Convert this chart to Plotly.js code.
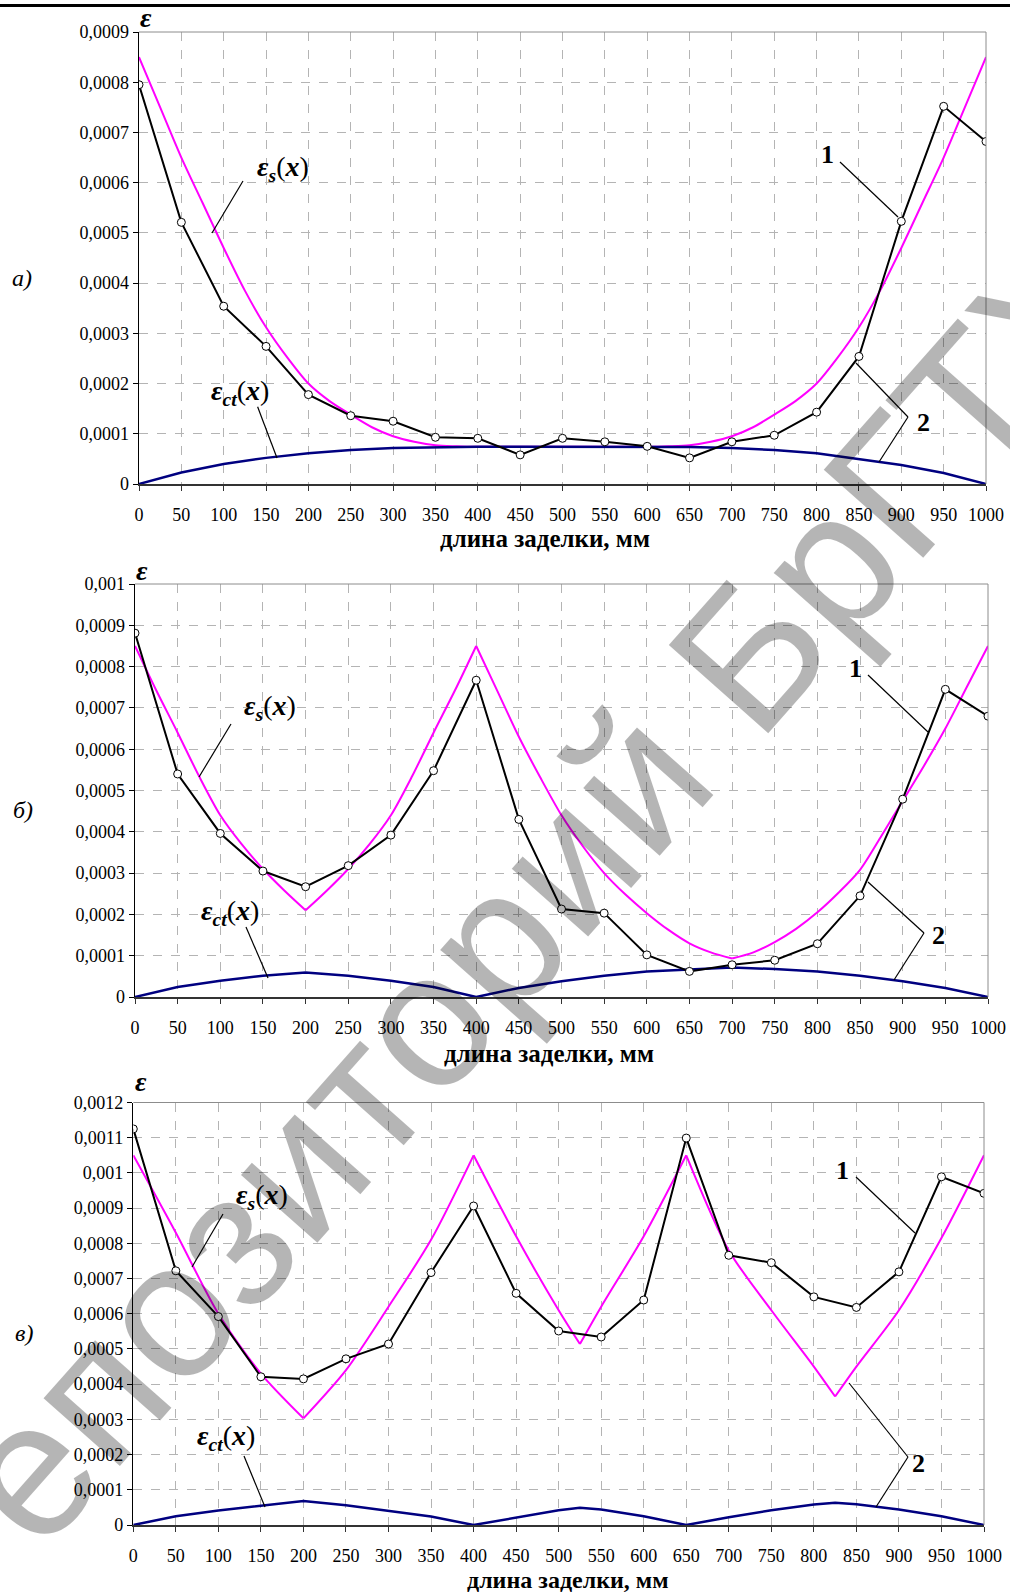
<!DOCTYPE html>
<html>
<head>
<meta charset="utf-8">
<script src="https://cdn.plot.ly/plotly-3.0.1.min.js"></script>
<style>
html,body{margin:0;padding:0;background:#fff;}
#chart{width:1010px;height:1596px;}
</style>
</head>
<body>
<div id="chart"></div>
<script>
// ---------- DATA ----------
const xTickVals = [0,50,100,150,200,250,300,350,400,450,500,550,600,650,700,750,800,850,900,950,1000];
const xTickText = ['0','50','100','150','200','250','300','350','400','450','500','550','600','650','700','750','800','850','900','950','1000'];

const yTickValsA = [0,0.0001,0.0002,0.0003,0.0004,0.0005,0.0006,0.0007,0.0008,0.0009];
const yTickTextA = ['0','0,0001','0,0002','0,0003','0,0004','0,0005','0,0006','0,0007','0,0008','0,0009'];
const yTickValsB = [0,0.0001,0.0002,0.0003,0.0004,0.0005,0.0006,0.0007,0.0008,0.0009,0.001];
const yTickTextB = ['0','0,0001','0,0002','0,0003','0,0004','0,0005','0,0006','0,0007','0,0008','0,0009','0,001'];
const yTickValsC = [0,0.0001,0.0002,0.0003,0.0004,0.0005,0.0006,0.0007,0.0008,0.0009,0.001,0.0011,0.0012];
const yTickTextC = ['0','0,0001','0,0002','0,0003','0,0004','0,0005','0,0006','0,0007','0,0008','0,0009','0,001','0,0011','0,0012'];

// measured points (curve 1), every 50 mm
const xMeas = [0,50,100,150,200,250,300,350,400,450,500,550,600,650,700,750,800,850,900,950,1000];
const measA = [0.000795,0.000521,0.000354,0.000274,0.000178,0.000136,0.000125,0.000093,0.000091,0.000058,0.000091,0.000084,0.000075,0.000052,0.000084,0.000097,0.000143,0.000254,0.000523,0.000752,0.000682];
const measB = [0.000881,0.00054,0.000396,0.000305,0.000267,0.000318,0.000392,0.000548,0.000767,0.00043,0.000213,0.000203,0.000102,0.000062,0.000078,0.000089,0.000129,0.000245,0.000479,0.000745,0.00068];
const measC = [0.001125,0.000722,0.000592,0.000421,0.000415,0.000472,0.000514,0.000717,0.000906,0.000658,0.000551,0.000534,0.000639,0.001099,0.000766,0.000745,0.000648,0.000618,0.000719,0.000989,0.000942];

// eps_s(x) theoretical (magenta)
const xSA = [0,25,50,75,100,125,150,175,200,225,250,275,300,325,350,375,400,425,450,475,500,525,550,575,600,625,650,675,700,725,750,775,800,825,850,875,900,925,950,975,1000];
const epsSA = [0.00085,0.00075,0.00065,0.00056,0.00047,0.000385,0.000312,0.000252,0.0002,0.000165,0.000138,0.000113,0.000095,0.000084,0.000077,0.000075,0.000074,0.000074,0.000074,0.000074,0.000074,0.000074,0.000074,0.000074,0.000074,0.000075,0.000077,0.000084,0.000095,0.000113,0.000138,0.000165,0.0002,0.000252,0.000312,0.000385,0.00047,0.00056,0.00065,0.00075,0.00085];
const xSB = [0,25,50,75,100,125,150,175,200,225,250,275,300,325,350,375,400,425,450,475,500,525,550,575,600,625,650,675,700,725,750,775,800,825,850,875,900,925,950,975,1000];
const epsSB = [0.00085,0.000742,0.00064,0.000535,0.00044,0.00037,0.00031,0.000258,0.00021,0.000258,0.00031,0.00037,0.00044,0.000535,0.00064,0.000742,0.00085,0.00074,0.00063,0.000532,0.00044,0.000365,0.0003,0.000248,0.000203,0.000163,0.00013,0.000108,0.000093,0.000108,0.000133,0.000165,0.000205,0.000253,0.000308,0.00039,0.000475,0.00056,0.00065,0.00075,0.00085];
const cornersB = [200,400,700];
const xSC = [0,50,100,150,200,250,300,350,400,450,500,525,550,600,650,700,750,800,825,850,900,950,1000];
const epsSC = [0.00105,0.00083,0.0006,0.00043,0.000303,0.00044,0.00062,0.00081,0.00105,0.00082,0.00061,0.000514,0.00062,0.00082,0.00105,0.00078,0.00061,0.00045,0.000365,0.00045,0.00061,0.000815,0.00105];
const cornersC = [200,400,525,650,825];

// eps_ct(x) theoretical (navy)
const xCtA = [0,50,100,150,200,250,300,350,400,450,500,550,600,650,700,750,800,850,900,950,1000];
const epsCtA = [0,0.000023,0.00004,0.000052,0.000061,0.0000675,0.0000715,0.0000735,0.000074,0.000074,0.000074,0.000074,0.000074,0.0000735,0.0000715,0.0000675,0.000061,0.00005,0.000038,0.000022,0];
const xCtB = [0,50,100,150,200,250,300,350,400,450,500,550,600,650,700,750,800,850,900,950,1000];
const epsCtB = [0,0.000024,0.0000395,0.0000515,0.0000595,0.0000515,0.0000395,0.000024,0,0.000022,0.000038,0.0000515,0.000062,0.0000677,0.0000716,0.0000677,0.000062,0.0000515,0.000038,0.000022,0];
const xCtC = [0,50,100,150,200,250,300,350,400,450,500,525,550,600,650,700,750,800,825,850,900,950,1000];
const epsCtC = [0,0.000025,0.000041,0.000055,0.000068,0.000056,0.000041,0.000024,0,0.000021,0.000042,0.000049,0.000044,0.000025,0,0.000022,0.000042,0.000058,0.000063,0.000059,0.000044,0.000025,0];

// ---------- LAYOUT HELPERS ----------
const W = 1010, H = 1596;
const px = x => x / W;
const py = y => 1 - y / H;
const SERIF = '"Liberation Serif", "Times New Roman", serif';

function xAxis(l, r, anchor) {
  return {
    domain: [px(l), px(r)], anchor: anchor, range: [0, 1000],
    tickmode: 'array', tickvals: xTickVals, ticktext: xTickText,
    ticks: 'outside', ticklen: 5, tickcolor: '#333', tickwidth: 1,
    showline: true, linecolor: '#333', linewidth: 1.5,
    showgrid: true, gridcolor: '#b4b4b4', griddash: 'dash', gridwidth: 1,
    zeroline: false, automargin: false, fixedrange: true,
    ticklabelstandoff: 9,
    tickfont: {family: SERIF, size: 18, color: '#000'}
  };
}
function yAxis(top, bottom, max, vals, text, anchor) {
  return {
    domain: [py(bottom), py(top)], anchor: anchor, range: [0, max],
    tickmode: 'array', tickvals: vals, ticktext: text,
    ticks: 'outside', ticklen: 5, tickcolor: '#000', tickwidth: 1,
    showline: true, linecolor: '#000', linewidth: 1.5,
    showgrid: true, gridcolor: '#b4b4b4', griddash: 'dash', gridwidth: 1,
    zeroline: false, automargin: false, fixedrange: true,
    tickfont: {family: SERIF, size: 18, color: '#000'}
  };
}

// plot rectangles in pixels [left, right, top, bottom]
const RA = [139, 986, 32, 484];
const RB = [135, 988, 584, 997];
const RC = [133.3, 984, 1102.5, 1525];

// split a curve into smooth pieces at its sharp corners
function pieces(xs, ys, corners) {
  const out = []; let cx = [], cy = [];
  for (let i = 0; i < xs.length; i++) {
    cx.push(xs[i]); cy.push(ys[i]);
    if (corners.indexOf(xs[i]) >= 0) { out.push([cx, cy]); cx = [xs[i]]; cy = [ys[i]]; }
  }
  out.push([cx, cy]);
  return out;
}

function traces(xa, ya, xs, s, corners, xc, c, m) {
  const t = [];
  pieces(xs, s, corners).forEach(p => t.push({x: p[0], y: p[1], xaxis: xa, yaxis: ya, mode: 'lines',
    line: {color: '#ff00ff', width: 2, shape: 'spline', smoothing: 0.8}, hoverinfo: 'skip'}));
  t.push({x: xc, y: c, xaxis: xa, yaxis: ya, mode: 'lines', line: {color: '#000080', width: 2.5}, hoverinfo: 'skip'});
  t.push({x: xMeas, y: m, xaxis: xa, yaxis: ya, mode: 'lines+markers',
     line: {color: '#000', width: 2},
     marker: {symbol: 'circle', size: 8, color: '#fff', line: {color: '#000', width: 1}}, hoverinfo: 'skip'});
  return t;
}

const data = [].concat(
  traces('x', 'y', xSA, epsSA, [], xCtA, epsCtA, measA),
  traces('x2', 'y2', xSB, epsSB, cornersB, xCtB, epsCtB, measB),
  traces('x3', 'y3', xSC, epsSC, cornersC, xCtC, epsCtC, measC)
);

function line(x0, y0, x1, y1, w, col) {
  return {type: 'line', xref: 'paper', yref: 'paper', x0: px(x0), y0: py(y0), x1: px(x1), y1: py(y1),
          line: {color: col || '#000', width: w || 1.2}};
}
function border(R) {
  return [line(R[0], R[2], R[1], R[2], 1, '#8c8c8c'), line(R[1], R[2], R[1], R[3], 1, '#8c8c8c')];
}

const shapes = [].concat(
  [line(0, 5.5, 1010, 5.5, 3, '#000')],
  border(RA), border(RB), border(RC),
  [
    line(243, 181, 212, 233), line(840, 162, 898, 217), line(257.6, 406.7, 277, 458),
    line(908, 417, 856, 363), line(908, 417, 879, 462),
    line(231, 724, 199, 777), line(868, 675, 928, 732), line(246, 927, 268, 978),
    line(924, 933, 868, 882), line(924, 933, 894, 980),
    line(223, 1214, 192, 1267), line(856, 1177, 915, 1233), line(244, 1456, 265, 1507),
    line(908, 1457, 849, 1383), line(908, 1457, 876, 1507)
  ]
);

function ann(x, y, text, size, extra) {
  return Object.assign({xref: 'paper', yref: 'paper', x: px(x), y: py(y), text: text, showarrow: false,
    xanchor: 'center', yanchor: 'middle', font: {family: SERIF, size: size, color: '#000'}}, extra || {});
}
const EPS_S = '<b><i>ε</i></b><sub><b><i>s</i></b></sub>(<b><i>x</i></b>)';
const EPS_CT = '<b><i>ε</i></b><sub><b><i>ct</i></b></sub>(<b><i>x</i></b>)';
const AXT = '<b>длина заделки, мм</b>';

const annotations = [
  ann(146, 18, '<b><i>ε</i></b>', 28), ann(142, 570, '<b><i>ε</i></b>', 28), ann(141, 1081, '<b><i>ε</i></b>', 28),
  ann(22, 278, '<i>а)</i>', 24), ann(23, 810, '<i>б)</i>', 24), ann(24, 1333, '<i>в)</i>', 24),
  ann(545, 538, AXT, 25), ann(549, 1053, AXT, 25), ann(568, 1580, AXT, 24),
  ann(283, 168, EPS_S, 28), ann(240, 393, EPS_CT, 28), ann(827, 155, '<b>1</b>', 26), ann(923, 422, '<b>2</b>', 26),
  ann(270, 708, EPS_S, 28), ann(230, 912, EPS_CT, 28), ann(855, 668, '<b>1</b>', 26), ann(938, 935, '<b>2</b>', 26),
  ann(262, 1196, EPS_S, 28), ann(226, 1437, EPS_CT, 28), ann(842, 1170, '<b>1</b>', 26), ann(918, 1463, '<b>2</b>', 26),
  // watermark
  {xref: 'paper', yref: 'paper', x: px(501), y: py(934), text: 'Репозиторий БрГТУ', showarrow: false,
   xanchor: 'center', yanchor: 'middle', textangle: -48.5,
   font: {family: '"Liberation Sans", Arial, sans-serif', size: 193, color: 'rgba(0,0,0,0.29)'}}
];

const layout = {
  width: W, height: H,
  margin: {l: 0, r: 0, t: 0, b: 0, pad: 0},
  paper_bgcolor: '#fff', plot_bgcolor: '#fff',
  showlegend: false,
  xaxis: xAxis(RA[0], RA[1], 'y'),
  yaxis: yAxis(RA[2], RA[3], 0.0009, yTickValsA, yTickTextA, 'x'),
  xaxis2: xAxis(RB[0], RB[1], 'y2'),
  yaxis2: yAxis(RB[2], RB[3], 0.001, yTickValsB, yTickTextB, 'x2'),
  xaxis3: xAxis(RC[0], RC[1], 'y3'),
  yaxis3: yAxis(RC[2], RC[3], 0.0012, yTickValsC, yTickTextC, 'x3'),
  shapes: shapes,
  annotations: annotations
};

Plotly.newPlot('chart', data, layout, {displayModeBar: false, staticPlot: true});
</script>
</body>
</html>
